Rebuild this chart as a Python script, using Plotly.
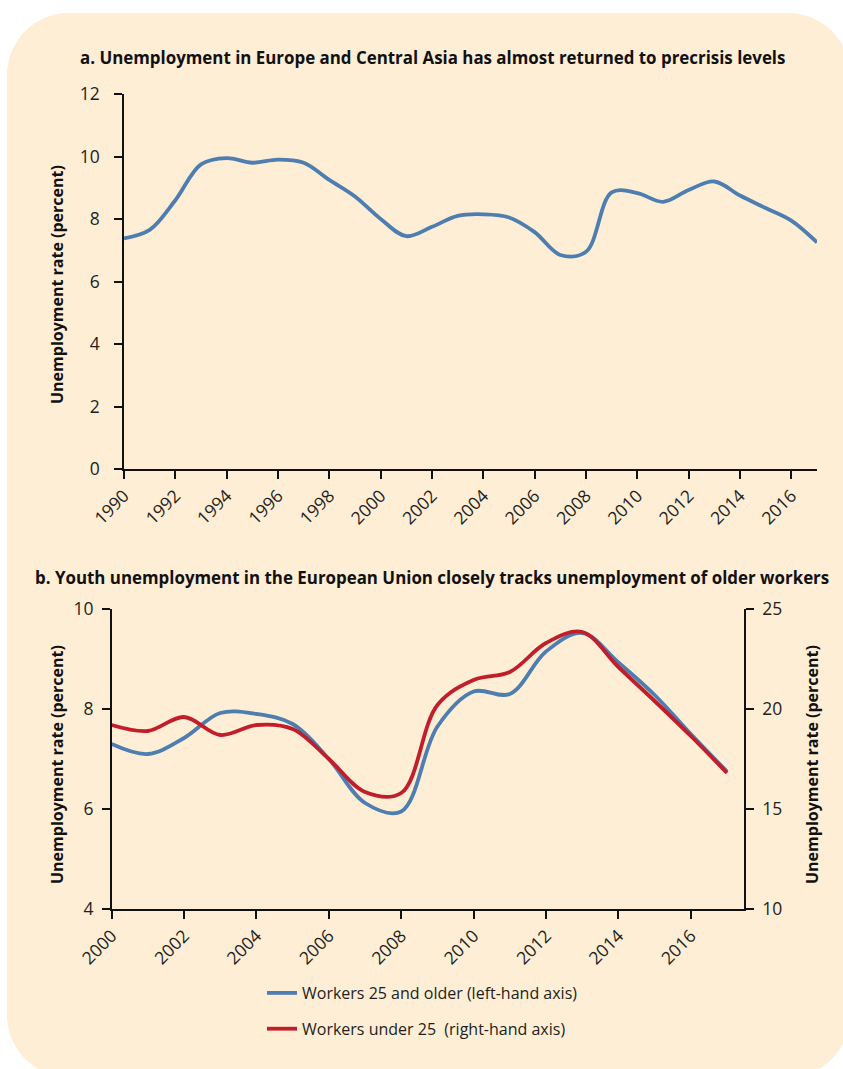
import plotly.graph_objects as go

W, H = 843, 1069

# Panel a data
years_a = list(range(1990, 2018))
eca_unemp = [7.38, 7.65, 8.6, 9.75, 9.95, 9.8, 9.9, 9.8, 9.25, 8.72, 8.0, 7.45, 7.75, 8.1,
             8.15, 8.05, 7.58, 6.85, 6.95, 8.85, 8.83, 8.55, 8.93, 9.2, 8.75, 8.35, 7.95, 7.25]

# Panel b data
years_b = list(range(2000, 2018))
older_workers = [7.3, 7.1, 7.42, 7.92, 7.9, 7.7, 7.0, 6.12, 5.95, 7.65, 8.35, 8.3, 9.15, 9.52,
                 8.93, 8.28, 7.5, 6.75]
youth_workers = [19.2, 18.9, 19.6, 18.7, 19.2, 19.0, 17.5, 15.85, 15.8, 20.2, 21.45, 21.85,
                 23.3, 23.85, 22.1, 20.4, 18.65, 16.8]

title_a = "a. Unemployment in Europe and Central Asia has almost returned to precrisis levels"
title_b = "b. Youth unemployment in the European Union closely tracks unemployment of older workers"
ytitle = "Unemployment rate (percent)"
name_older = "Workers 25 and older (left-hand axis)"
name_youth = "Workers under 25  (right-hand axis)"

BLUE = "#4E7DB0"
RED = "#C21D2B"
BG = "#FEEED6"
TXT = "#231F20"
FONT = "Open Sans"

def px(x):
    return x / W

def py(y):
    return 1 - y / H

fig = go.Figure()
fig.add_trace(go.Scatter(x=years_a, y=eca_unemp, mode="lines", xaxis="x", yaxis="y",
                         line=dict(color=BLUE, width=3.8, shape="spline", smoothing=1),
                         showlegend=False, hoverinfo="x+y"))
fig.add_trace(go.Scatter(x=years_b, y=older_workers, mode="lines", xaxis="x2", yaxis="y2",
                         name=name_older, legendgroup="g1",
                         line=dict(color=BLUE, width=3.8, shape="spline", smoothing=1)))
fig.add_trace(go.Scatter(x=years_b, y=youth_workers, mode="lines", xaxis="x2", yaxis="y3",
                         name=name_youth, legendgroup="g2",
                         line=dict(color=RED, width=3.8, shape="spline", smoothing=1)))

axis_common = dict(showline=True, linecolor="#111111", linewidth=1.5, ticks="outside",
                   ticklen=8, tickwidth=1.5, tickcolor="#111111", showgrid=False,
                   zeroline=False, tickfont=dict(family=FONT, size=17.5, color=TXT),
                   fixedrange=True, automargin=False)

fig.update_layout(
    width=W, height=H, autosize=False,
    margin=dict(l=0, r=0, t=0, b=0, pad=0, autoexpand=False),
    paper_bgcolor="white",
    plot_bgcolor="rgba(0,0,0,0)",
    font=dict(family=FONT, color=TXT),
    xaxis=dict(domain=[px(124), px(817)], range=[1990, 2017], anchor="y",
               tickmode="array", tickvals=list(range(1990, 2017, 2)), tickangle=-45,
               **axis_common),
    yaxis=dict(domain=[py(469), py(94)], range=[0, 12], anchor="x",
               tickvals=[0, 2, 4, 6, 8, 10, 12], ticklabelstandoff=11, **axis_common),
    xaxis2=dict(domain=[px(111.7), px(744)], range=[2000, 2017.47], anchor="y2",
                tickmode="array", tickvals=list(range(2000, 2017, 2)), tickangle=-45,
                **axis_common),
    yaxis2=dict(domain=[py(909), py(609)], range=[4, 10], anchor="x2",
                tickvals=[4, 6, 8, 10], ticklabelstandoff=5, **axis_common),
    yaxis3=dict(range=[10, 25], overlaying="y2", side="right", anchor="x2",
                tickvals=[10, 15, 20, 25], ticklabelstandoff=5, **axis_common),
    legend=dict(x=px(262), y=py(976), xanchor="left", yanchor="top",
                bgcolor="rgba(0,0,0,0)", font=dict(family=FONT, size=16, color=TXT),
                tracegroupgap=12, traceorder="grouped"),
)

# rounded background panel
x0, x1, y0, y1, r = 7, 850, 13, 1077, 62
k = 0.5523 * r
pts = [
    ("M", [(x0 + r, y0)]),
    ("L", [(x1 - r, y0)]),
    ("C", [(x1 - r + k, y0), (x1, y0 + r - k), (x1, y0 + r)]),
    ("L", [(x1, y1 - r)]),
    ("C", [(x1, y1 - r + k), (x1 - r + k, y1), (x1 - r, y1)]),
    ("L", [(x0 + r, y1)]),
    ("C", [(x0 + r - k, y1), (x0, y1 - r + k), (x0, y1 - r)]),
    ("L", [(x0, y0 + r)]),
    ("C", [(x0, y0 + r - k), (x0 + r - k, y0), (x0 + r, y0)]),
]
path = ""
for cmd, coords in pts:
    path += cmd + " ".join(f"{px(a):.5f},{py(b):.5f}" for a, b in coords) + " "
path += "Z"
fig.add_shape(type="path", path=path, xref="paper", yref="paper",
              fillcolor=BG, line=dict(width=0), layer="below")

ann = dict(showarrow=False, xref="paper", yref="paper")
fig.add_annotation(text=f"<b>{title_a}</b>", x=px(432), y=py(57), xanchor="center",
                   yanchor="middle", font=dict(family=FONT, size=16.9, color="#111"), **ann)
fig.add_annotation(text=f"<b>{title_b}</b>", x=px(432), y=py(577), xanchor="center",
                   yanchor="middle", font=dict(family=FONT, size=16.9, color="#111"), **ann)
for xx, yy in [(57, 285), (57, 765), (812, 765)]:
    fig.add_annotation(text=f"<b>{ytitle}</b>", x=px(xx), y=py(yy), textangle=-90,
                       xanchor="center", yanchor="middle",
                       font=dict(family=FONT, size=16, color="#111"), **ann)

fig.write_html("out.html",
               config={"displayModeBar": False},
               post_script="document.body.style.margin='0px';"
                           "document.body.style.overflow='hidden';")
